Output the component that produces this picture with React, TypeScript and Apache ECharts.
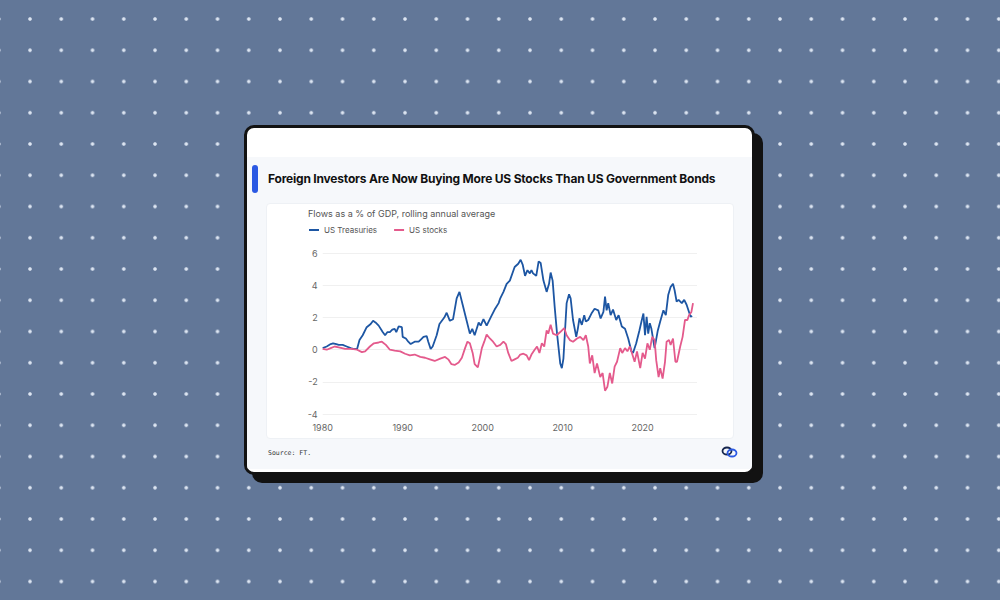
import React, { useEffect, useRef } from "react";
import * as echarts from "echarts";

const yearTicks = [1980, 1990, 2000, 2010, 2020];
const treasuryYears = [
  1980, 1980.5, 1981, 1981.3, 1981.7, 1982, 1982.5, 1983, 1983.5, 1983.8, 1984.3, 1984.6, 1985, 1985.5, 1986, 1986.3,
  1986.6, 1987, 1987.5, 1987.8, 1988.1, 1988.4, 1988.7, 1989, 1989.2, 1989.5, 1989.9, 1990, 1990.4, 1990.7, 1991,
  1991.5, 1992, 1992.3, 1992.6, 1993, 1993.2, 1993.5, 1993.75, 1994.25, 1994.6, 1995.2, 1995.5, 1995.9, 1996.3,
  1996.75, 1997.1, 1997.5, 1998, 1998.4, 1998.7, 1999, 1999.5, 1999.75, 2000.1, 2000.5, 2001.1, 2001.5, 2002, 2002.2,
  2002.6, 2003, 2003.4, 2004, 2004.45, 2004.75, 2005, 2005.3, 2005.6, 2005.9, 2006.1, 2006.3, 2006.7, 2007, 2007.25,
  2007.6, 2008, 2008.3, 2008.5, 2008.75, 2009, 2009.3, 2009.7, 2009.9, 2010.1, 2010.3, 2010.5, 2010.8, 2011, 2011.3,
  2011.7, 2011.9, 2012.1, 2012.4, 2012.7, 2012.9, 2013.2, 2013.6, 2014, 2014.45, 2014.75, 2015.1, 2015.3, 2015.5,
  2015.7, 2016, 2016.3, 2016.7, 2017, 2017.4, 2017.8, 2018.2, 2018.6, 2018.8, 2019.2, 2019.6, 2019.9, 2020.1, 2020.3,
  2020.5, 2020.7, 2020.9, 2021.1, 2021.5, 2021.9, 2022.2, 2022.6, 2022.9, 2023.2, 2023.5, 2023.8, 2024, 2024.25,
  2024.5, 2024.9, 2025.2, 2025.5, 2025.8, 2026, 2026.2,
];
const treasuryValues = [
  0.1, 0.2, 0.35, 0.4, 0.35, 0.3, 0.3, 0.2, 0.1, 0.05, 0.05, 0.6, 0.9, 1.4, 1.6, 1.8,
  1.7, 1.5, 1.1, 0.9, 1.1, 1.1, 1.25, 1.3, 1.1, 1.45, 1.4, 0.8, 0.7, 0.5, 0.35,
  0.5, 0.5, 0.65, 0.8, 0.85, 0.5, 0.05, 0.2, 0.9, 1.6, 2.0, 2.3, 1.8, 1.9,
  3.2, 3.6, 2.8, 1.8, 1.0, 1.3, 0.9, 1.7, 1.5, 1.9, 1.5, 2.1, 2.5, 2.9, 3.2,
  3.6, 4.1, 4.3, 5.15, 5.35, 5.6, 5.3, 4.6, 4.95, 4.75, 4.95, 4.75, 4.6, 5.5, 5.4,
  4.3, 3.6, 4.1, 4.8, 4.3, 2.7, 1.0, -0.85, -1.15, -0.55, 1.2, 2.9, 3.45, 3.2, 1.85,
  0.8, 1.3, 1.95, 1.55, 2.15, 1.75, 1.85, 2.25, 2.55, 2.45, 1.95, 2.35, 3.3, 2.45,
  2.9, 2.15, 2.5, 1.85, 2.15, 1.45, 1.3, 0.7, -0.1, -0.2, 0.4, 1.2, 1.85, 2.25, 0.9,
  2.05, 1.0, 1.65, 1.3, 0.1, 1.2, 1.75, 2.45, 2.15, 3.4, 3.9, 4.1, 3.7, 3.0,
  3.1, 2.9, 3.1, 2.8, 2.35, 2.05, 2.1,
];
const stockYears = [
  1980, 1980.5, 1981, 1981.5, 1982, 1982.8, 1983.6, 1984.3, 1984.9, 1985.3, 1985.9, 1986.4, 1987, 1987.4, 1987.9,
  1988.4, 1989, 1989.7, 1990.3, 1990.9, 1991.5, 1992.2, 1992.8, 1993.4, 1994, 1994.7, 1995.3, 1995.7, 1996.1, 1996.5,
  1997, 1997.4, 1997.8, 1998.1, 1998.4, 1998.75, 1999, 1999.4, 1999.7, 1999.9, 2000.2, 2000.5, 2000.9, 2001.3,
  2001.75, 2002.2, 2002.6, 2002.9, 2003.2, 2003.6, 2004, 2004.4, 2004.7, 2005.1, 2005.5, 2005.8, 2006.1, 2006.5,
  2006.8, 2007.1, 2007.4, 2007.7, 2008, 2008.2, 2008.5, 2008.8, 2009.25, 2009.7, 2010.2, 2010.5, 2010.9, 2011.3,
  2011.8, 2012.2, 2012.6, 2012.9, 2013.2, 2013.4, 2013.7, 2014, 2014.3, 2014.7, 2015, 2015.3, 2015.6, 2015.9, 2016.2,
  2016.5, 2016.8, 2017.2, 2017.45, 2017.8, 2018.1, 2018.4, 2018.75, 2019, 2019.3, 2019.7, 2020, 2020.3, 2020.6,
  2020.9, 2021.2, 2021.5, 2021.7, 2022, 2022.2, 2022.5, 2022.8, 2023, 2023.3, 2023.5, 2023.8, 2024.1, 2024.3, 2024.7,
  2025, 2025.3, 2025.6, 2025.8, 2026.1, 2026.3,
];
const stockValues = [
  0.05, 0.0, 0.1, 0.2, 0.15, 0.05, 0.05, 0.0, -0.15, -0.1, 0.2, 0.4, 0.45, 0.5, 0.3,
  0.0, -0.05, -0.1, -0.25, -0.35, -0.3, -0.45, -0.5, -0.6, -0.7, -0.55, -0.45, -0.6, -0.9, -0.95,
  -0.8, -0.5, 0.1, 0.5, 0.4, -0.2, -0.9, -1.1, -0.4, 0.1, 0.5, 0.95, 0.7, 0.5,
  0.2, 0.3, 0.5, 0.35, -0.2, -0.7, -0.6, -0.5, -0.3, -0.25, -0.35, -0.65, -0.3, 0.0,
  0.2, -0.2, 0.4, 0.2, 1.2, 1.0, 1.55, 1.0, 0.9, 1.1, 1.35, 0.9, 0.6, 0.5,
  0.7, 0.8, 0.6, 0.9, 0.2, -0.85, -0.35, -1.45, -0.85, -1.7, -1.45, -2.55, -2.3, -1.45, -2.1,
  -1.05, -0.75, 0.1, -0.2, 0.1, -0.1, 0.2, -0.35, -0.75, -0.1, -1.15, -0.2, -0.55, 0.4,
  0.0, 0.8, 0.6, -0.65, -1.7, -1.15, -1.8, -0.75, 0.5, 0.6, 0.3, 0.7, -0.75, -0.75, 0.2,
  0.8, 1.85, 1.85, 2.15, 2.35, 2.9,
];

const TITLE = "Foreign Investors Are Now Buying More US Stocks Than US Government Bonds";
const SUBTITLE = "Flows as a % of GDP, rolling annual average";
const SERIES_NAMES = ["US Treasuries", "US stocks"];
const COLORS = ["#1d56a3", "#e45a8c"];

function Chart() {
  const ref = useRef<HTMLDivElement>(null);
  useEffect(() => {
    if (!ref.current) return;
    const chart = echarts.init(ref.current, null, { renderer: "svg" });
    const font = "Inter, 'Noto Sans', sans-serif";
    chart.setOption({
      animation: false,
      textStyle: { fontFamily: font },
      title: {
        text: SUBTITLE,
        left: 37,
        top: 1,
        textStyle: { fontSize: 9, fontWeight: "normal", color: "#555", fontFamily: font },
      },
      legend: {
        left: 38,
        top: 18,
        icon: "rect",
        itemWidth: 10,
        itemHeight: 2,
        itemGap: 17,
        textStyle: { fontSize: 8, color: "#555", fontFamily: font },
        data: SERIES_NAMES,
      },
      grid: { left: 56.7, right: 37, top: 50.3, bottom: 25, containLabel: false },
      xAxis: {
        type: "value",
        min: 1980,
        max: 2026.8,
        interval: 10,
        axisLine: { show: true, lineStyle: { color: "#eeeeee" } },
        axisTick: { show: false },
        splitLine: { show: false },
        axisLabel: {
          color: "#666",
          fontSize: 9,
          margin: 9,
          showMaxLabel: false,
          formatter: (v: number) => (yearTicks.includes(v) ? String(v) : ""),
        },
      },
      yAxis: {
        type: "value",
        min: -4,
        max: 6,
        interval: 2,
        axisLine: { show: false },
        axisTick: { show: false },
        splitLine: { show: true, lineStyle: { color: "#f0f0f0", width: 1 } },
        axisLabel: { color: "#666", fontSize: 9, margin: 5 },
      },
      series: [
        {
          name: SERIES_NAMES[0],
          type: "line",
          showSymbol: false,
          symbol: "none",
          lineStyle: { color: COLORS[0], width: 1.8 },
          itemStyle: { color: COLORS[0] },
          data: treasuryYears.map((y, i) => [y, treasuryValues[i]]),
        },
        {
          name: SERIES_NAMES[1],
          type: "line",
          showSymbol: false,
          symbol: "none",
          lineStyle: { color: COLORS[1], width: 1.8 },
          itemStyle: { color: COLORS[1] },
          data: stockYears.map((y, i) => [y, stockValues[i]]),
        },
      ],
    });
    return () => chart.dispose();
  }, []);
  return (
    <div
      ref={ref}
      style={{ position: "absolute", left: 266, top: 203, width: 468, height: 236 }}
    />
  );
}

export default function App() {
  return (
    <div
      style={{
        position: "fixed",
        left: 0,
        top: 0,
        width: 1000,
        height: 600,
        overflow: "hidden",
        backgroundColor: "#627798",
        backgroundImage: "radial-gradient(circle, rgba(235,242,252,0.9) 1.3px, rgba(235,242,252,0) 2.2px)",
        backgroundSize: "31.25px 31.25px",
        backgroundPosition: "14.4px 3.4px",
        fontFamily: "Inter, 'Noto Sans', sans-serif",
      }}
    >
      <div
        style={{
          position: "absolute",
          left: 244,
          top: 125,
          width: 511,
          height: 350,
          boxSizing: "border-box",
          border: "3px solid #121212",
          borderRadius: 10,
          background: "#ffffff",
          boxShadow: "8px 8px 0 #121212",
          overflow: "hidden",
        }}
      >
        <div
          style={{
            position: "absolute",
            left: 0,
            right: 0,
            top: 29,
            bottom: 3,
            background: "#f6f8fb",
          }}
        />
      </div>
      <div
        style={{
          position: "absolute",
          left: 252,
          top: 165,
          width: 6,
          height: 28,
          background: "#2b59e3",
          borderRadius: 3,
        }}
      />
      <div
        style={{
          position: "absolute",
          left: 268,
          top: 171,
          fontSize: 12,
          letterSpacing: -0.2,
          lineHeight: "16px",
          fontWeight: 700,
          color: "#111",
          whiteSpace: "nowrap",
        }}
      >
        {TITLE}
      </div>
      <div
        style={{
          position: "absolute",
          left: 266,
          top: 203,
          width: 468,
          height: 236,
          boxSizing: "border-box",
          background: "#ffffff",
          border: "1px solid #eef1f5",
          borderRadius: 4,
        }}
      />
      <Chart />
      <div
        style={{
          position: "absolute",
          left: 268,
          top: 449,
          fontSize: 6.5,
          fontFamily: "'DejaVu Sans Mono', 'Liberation Mono', monospace",
          color: "#333",
          whiteSpace: "nowrap",
        }}
      >
        Source: FT.
      </div>
      <svg
        style={{ position: "absolute", left: 721, top: 445 }}
        width={17}
        height={14}
        viewBox="0 0 17 14"
      >
        <ellipse cx="6" cy="6" rx="4.5" ry="3.5" fill="none" stroke="#16264d" strokeWidth="1.8" />
        <ellipse cx="11" cy="8" rx="4.5" ry="3.5" fill="none" stroke="#2b59e3" strokeWidth="1.8" />
      </svg>
    </div>
  );
}
